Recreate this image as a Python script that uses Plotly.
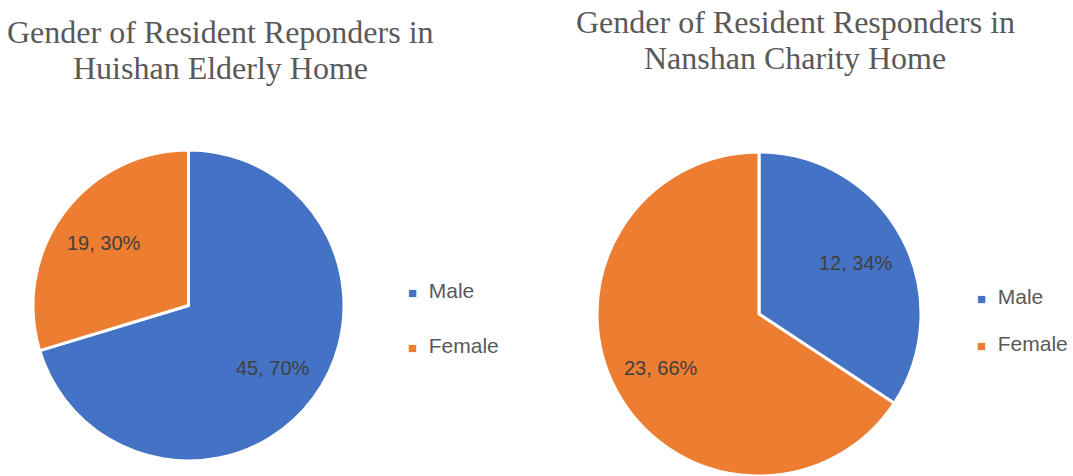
import math
import plotly.graph_objects as go

categories = ["Male", "Female"]
huishan_values = [45, 19]
nanshan_values = [12, 23]
colors = ["#4472C4", "#ED7D31"]
title_left = ["Gender of Resident Reponders in", "Huishan Elderly Home"]
title_right = ["Gender of Resident Responders in", "Nanshan Charity Home"]

W, H = 1073, 476
fig = go.Figure()

def px_x(a, b):
    return [a / W, b / W]

def px_y(top, bottom):
    return [max(0, (H - bottom) / H), min(1, (H - top) / H)]

common = dict(
    labels=categories,
    sort=False,
    direction="clockwise",
    rotation=0,
    marker=dict(colors=colors, line=dict(color="white", width=3)),
    textinfo="none",
    showlegend=False,
    hoverinfo="label+value+percent",
)

pies = [
    (huishan_values, (33, 344), (150, 461), (188.5, 305.5), 155.5),
    (nanshan_values, (596, 922), (152, 476), (758.5, 315.5), 162),
]

label_font = dict(family="Liberation Sans, Arial", size=20, color="#404040")
for vals, (x0, x1), (y0, y1), (cx, cy), r in pies:
    fig.add_trace(go.Pie(values=vals, domain=dict(x=px_x(x0, x1), y=px_y(y0, y1)), **common))
    # data labels placed along each slice bisector (Excel-style best fit)
    total = sum(vals)
    start = 0.0
    for v in vals:
        frac = v / total
        mid = (start + frac / 2) * 2 * math.pi
        start += frac
        k = 0.68
        lx = cx + k * r * math.sin(mid)
        ly = cy - k * r * math.cos(mid)
        fig.add_annotation(text=f"{v}, {round(frac * 100)}%", x=lx / W, y=1 - ly / H,
                           xref="paper", yref="paper", showarrow=False, font=label_font,
                           xanchor="center", yanchor="middle")

title_font = dict(family="Liberation Serif, Times New Roman, serif", size=32, color="#595959")
for lines, tx, tys in [(title_left, 220, [32, 68]), (title_right, 795, [22, 58])]:
    for line, ty in zip(lines, tys):
        fig.add_annotation(text=line, x=tx / W, y=1 - ty / H, xref="paper", yref="paper",
                           showarrow=False, font=title_font, xanchor="center", yanchor="middle")

# custom legends (built from categories and colours)
legend_font = dict(family="Liberation Sans, Arial", size=21, color="#595959")
for lx, ys in [(406, [290, 345]), (975, [296, 343])]:
    for cat, col, ly in zip(categories, colors, ys):
        fig.add_annotation(text=f"<span style='color:{col};font-size:15px'>■</span>  {cat}",
                           x=lx / W, y=1 - ly / H, xref="paper", yref="paper",
                           showarrow=False, font=legend_font, xanchor="left", yanchor="middle")

fig.update_layout(width=W, height=H, margin=dict(l=0, r=0, t=0, b=0),
                  paper_bgcolor="white", plot_bgcolor="white")
fig.write_html("out.html", config={"displayModeBar": False},
               post_script="document.body.style.margin='0';")
